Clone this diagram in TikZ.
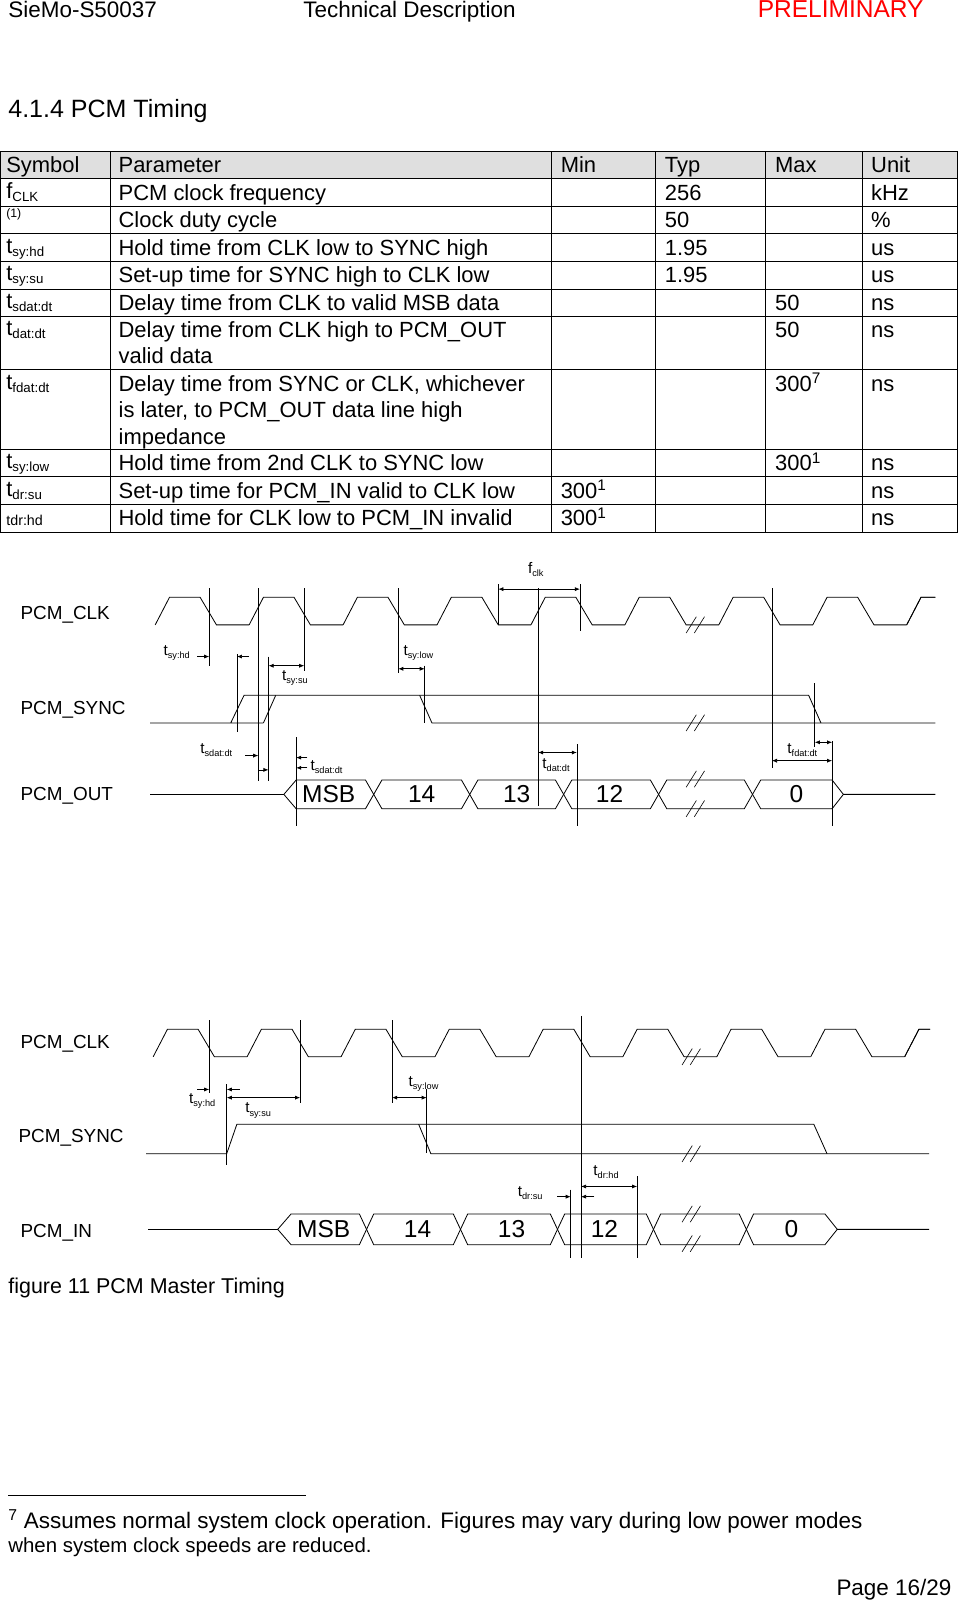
\documentclass[tikz,border=0pt]{standalone}
\usepackage{fontspec}
\setmainfont{Liberation Sans}
\usetikzlibrary{arrows.meta}
\newcommand\tlab[1]{t\raisebox{-3pt}{\fontsize{9}{9}\selectfont #1}}
\newcommand\symb[2]{#1\raisebox{-3pt}{\fontsize{13}{13}\selectfont #2}}
\begin{document}
\begin{tikzpicture}[x=1pt,y=-1pt,
  txt/.style={anchor=base west,inner sep=0pt,font=\fontsize{21.5}{21.5}\selectfont},
  lab/.style={anchor=base west,inner sep=0pt,font=\fontsize{18.5}{18.5}\selectfont},
  tl/.style={anchor=base west,inner sep=0pt,font=\fontsize{15}{15}\selectfont},
  bus/.style={font=\fontsize{24}{24}\selectfont},
  wave/.style={line width=0.8pt},
  vl/.style={line width=0.6pt},
  dim/.style={line width=0.7pt,-{Latex[length=5pt,width=4pt]}},
  ddim/.style={line width=0.7pt,{Latex[length=5pt,width=4pt]}-{Latex[length=5pt,width=4pt]}},
  brk/.style={line width=0.6pt}]
\useasboundingbox (0,0) rectangle (940,1568);
\fill[white] (0,0) rectangle (940,1568);
% header
\node[txt,font=\fontsize{22}{22}\selectfont] (h1) at (8,17) {SieMo-S50037};
\node[txt,font=\fontsize{22}{22}\selectfont] (h2) at (297,17) {Technical Description};
\node[txt,text=red,font=\fontsize{24}{24}\selectfont] (h3) at (742,17) {PRELIMINARY};
\node[txt,font=\fontsize{24.5}{24.5}\selectfont] (tt) at (8,115) {4.1.4 PCM Timing};
% table
\fill[gray!25] (0,148) rectangle (938,175);
\draw[line width=0.7pt] (0,148) rectangle (938,521);
\foreach \y in {175,202,229,256,283,310,362,440,467,494} \draw[line width=0.7pt] (0,\y)--(938,\y);
\foreach \x in {108,540,642,750,845} \draw[line width=0.7pt] (\x,148)--(\x,521);
\node[txt] (c1) at (6,169) {Symbol};
\node[txt] (c2) at (116,169) {Parameter};
\node[txt] (c3) at (549,169) {Min};
\node[txt] (c4) at (651,169) {Typ};
\node[txt] (c5) at (759,169) {Max};
\node[txt] (c6) at (853,169) {Unit};
% row 1
\node[txt] (r1a) at (6,194) {\symb{f}{CLK}};
\node[txt] (r1b) at (116,196) {PCM clock frequency};
\node[txt] (r1c) at (651,196) {256};
\node[txt] (r1d) at (853,196) {kHz};
% row 2
\node[txt,font=\fontsize{12}{12}\selectfont] (r2a) at (6,213) {(1)};
\node[txt] (r2b) at (116,223) {Clock duty cycle};
\node[txt] (r2c) at (651,223) {50};
\node[txt] (r2d) at (853,223) {\%};
% row 3
\node[txt] (r3a) at (6,248) {\symb{t}{sy:hd}};
\node[txt] (r3b) at (116,250) {Hold time from CLK low to SYNC high};
\node[txt] (r3c) at (651,250) {1.95};
\node[txt] (r3d) at (853,250) {us};
% row 4
\node[txt] (r4a) at (6,275) {\symb{t}{sy:su}};
\node[txt] (r4b) at (116,277) {Set-up time for SYNC high to CLK low};
\node[txt] (r4c) at (651,277) {1.95};
\node[txt] (r4d) at (853,277) {us};
% row 5
\node[txt] (r5a) at (6,302) {\symb{t}{sdat:dt}};
\node[txt] (r5b) at (116,304) {Delay time from CLK to valid MSB data};
\node[txt] (r5c) at (759,304) {50};
\node[txt] (r5d) at (853,304) {ns};
% row 6
\node[txt] (r6a) at (6,329) {\symb{t}{dat:dt}};
\node[txt] (r6b) at (116,331) {Delay time from CLK high to PCM\_OUT};
\node[txt] (r6b2) at (116,356) {valid data};
\node[txt] (r6c) at (759,331) {50};
\node[txt] (r6d) at (853,331) {ns};
% row 7
\node[txt] (r7a) at (6,381) {\symb{t}{fdat:dt}};
\node[txt] (r7b) at (116,383) {Delay time from SYNC or CLK, whichever};
\node[txt] (r7b2) at (116,409) {is later, to PCM\_OUT data line high};
\node[txt] (r7b3) at (116,435) {impedance};
\node[txt] (r7c) at (759,383) {300\textsuperscript{7}};
\node[txt] (r7d) at (853,383) {ns};
% row 8
\node[txt] (r8a) at (6,459) {\symb{t}{sy:low}};
\node[txt] (r8b) at (116,461) {Hold time from 2nd CLK to SYNC low};
\node[txt] (r8c) at (759,461) {300\textsuperscript{1}};
\node[txt] (r8d) at (853,461) {ns};
% row 9
\node[txt] (r9a) at (6,486) {\symb{t}{dr:su}};
\node[txt] (r9b) at (116,488) {Set-up time for PCM\_IN valid to CLK low};
\node[txt] (r9c) at (549,488) {300\textsuperscript{1}};
\node[txt] (r9d) at (853,488) {ns};
% row 10
\node[txt,font=\fontsize{14}{14}\selectfont] (r10a) at (6,515) {tdr:hd};
\node[txt] (r10b) at (116,515) {Hold time for CLK low to PCM\_IN invalid};
\node[txt] (r10c) at (549,515) {300\textsuperscript{1}};
\node[txt] (r10d) at (853,515) {ns};

% ================= diagram 1
\node[lab] (l1) at (20,607) {PCM\_CLK};
\node[lab] (l2) at (20,700) {PCM\_SYNC};
\node[lab] (l3) at (20,784) {PCM\_OUT};
\begin{scope}
\clip (140,570) rectangle (916,620);
\foreach \k in {0,...,8}{
 \pgfmathsetmacro\a{152+92*\k}
 \draw[wave] (\a,612)--(\a+14,585)--(\a+44,585)--(\a+60,612)--(\a+92,612);}
\draw[wave] (888,612)--(902,585)--(916,585);
\end{scope}
\draw[brk] (672,620)--(682,604) (680,620)--(690,604);
% sync
\draw[wave] (147,708)--(258,708) (226,708)--(239,681)--(792,681)--(804,708);
\draw[wave] (258,708)--(270,681);
\draw[wave] (411,681)--(423,708)--(916,708);
\draw[brk] (672,716)--(682,700) (680,716)--(690,700);
% out bus
\draw[wave] (147,778)--(278,778);
\draw[wave] (278,778)--(290,764)--(358,764)--(374,792)--(452,792)--(468,764)--(544,764)--(560,792)--(637,792)--(653,764)--(729,764)--(745,792)--(815,792)--(826,778)--(916,778);
\draw[wave] (278,778)--(290,792)--(358,792)--(374,764)--(452,764)--(468,792)--(544,792)--(560,764)--(637,764)--(653,792)--(729,792)--(745,764)--(815,764)--(826,778);
\draw[brk] (672,771)--(682,755) (680,771)--(690,755);
\draw[brk] (672,800)--(682,784) (680,800)--(690,784);
\node[bus] (m1) at (322,778) {MSB};
\node[bus] (m2) at (413,778) {14};
\node[bus] (m3) at (506,778) {13};
\node[bus] (m4) at (597,778) {12};
\node[bus] (m5) at (780,778) {0};
% verticals
\draw[vl] (205,576)--(205,652);
\draw[vl] (232,641)--(232,717);
\draw[vl] (253,576)--(253,765);
\draw[vl] (263,643)--(263,765);
\draw[vl] (298,576)--(298,657);
\draw[vl] (390,576)--(390,659);
\draw[vl] (416,652)--(416,708);
\draw[vl] (488,572)--(488,612);
\draw[vl] (568,572)--(568,618);
\draw[vl] (527,576)--(527,789);
\draw[vl] (565,729)--(565,809);
\draw[vl] (756,576)--(756,752);
\draw[vl] (815,726)--(815,809);
\draw[vl] (798,669)--(798,732);
\draw[vl] (290,722)--(290,809);
\coordinate (a1) at (193,643); \coordinate (a1e) at (205,643);
\draw[dim] (a1)--(a1e);
\coordinate (a2) at (244,643); \coordinate (a2e) at (232,643);
\draw[dim] (a2)--(a2e);
\coordinate (a3) at (263,652); \coordinate (a3e) at (298,652);
\draw[ddim] (a3)--(a3e);
\coordinate (a4) at (390,655); \coordinate (a4e) at (416,655);
\draw[ddim] (a4)--(a4e);
\coordinate (a5) at (488,577); \coordinate (a5e) at (568,577);
\draw[ddim] (a5)--(a5e);
\coordinate (a6) at (527,737); \coordinate (a6e) at (565,737);
\draw[ddim] (a6)--(a6e);
\coordinate (a7) at (756,745); \coordinate (a7e) at (815,745);
\draw[ddim] (a7)--(a7e);
\coordinate (a8) at (798,727); \coordinate (a8e) at (815,727);
\draw[ddim] (a8)--(a8e);
\coordinate (a9) at (240,740); \coordinate (a9e) at (253,740);
\draw[dim] (a9)--(a9e);
\coordinate (a10) at (253,754); \coordinate (a10e) at (263,754);
\draw[dim] (a10)--(a10e);
\coordinate (a11) at (301,742); \coordinate (a11e) at (290,742);
\draw[dim] (a11)--(a11e);
\coordinate (a12) at (301,752); \coordinate (a12e) at (290,752);
\draw[dim] (a12)--(a12e);
\node[tl] (t1) at (160,642) {\tlab{sy:hd}};
\node[tl] (t2) at (276,666) {\tlab{sy:su}};
\node[tl] (t3) at (395,642) {\tlab{sy:low}};
\node[tl] (t4) at (517,562) {f\raisebox{-3pt}{\fontsize{9}{9}\selectfont clk}};
\node[tl] (t5) at (196,738) {\tlab{sdat:dt}};
\node[tl] (t6) at (304,755) {\tlab{sdat:dt}};
\node[tl] (t7) at (531,753) {\tlab{dat:dt}};
\node[tl] (t8) at (771,738) {\tlab{fdat:dt}};

% ================= diagram 2
\node[lab] (k1) at (20,1027) {PCM\_CLK};
\node[lab] (k2) at (18,1119) {PCM\_SYNC};
\node[lab] (k3) at (20,1212) {PCM\_IN};
\begin{scope}
\clip (140,995) rectangle (911,1045);
\foreach \k in {0,...,8}{
 \pgfmathsetmacro\a{150+92*\k}
 \draw[wave] (\a,1035)--(\a+14,1008)--(\a+44,1008)--(\a+60,1035)--(\a+92,1035);}
\draw[wave] (886,1035)--(900,1008)--(911,1008);
\end{scope}
\draw[brk] (668,1043)--(678,1027) (676,1043)--(686,1027);
\draw[wave] (143,1130)--(222,1130)--(232,1101)--(797,1101)--(810,1130);
\draw[wave] (410,1101)--(422,1130)--(910,1130);
\draw[brk] (668,1138)--(678,1122) (676,1138)--(686,1122);
\draw[wave] (145,1204)--(272,1204);
\draw[wave] (272,1204)--(285,1189)--(352,1189)--(366,1219)--(444,1219)--(458,1189)--(539,1189)--(553,1219)--(633,1219)--(647,1189)--(724,1189)--(738,1219)--(808,1219)--(820,1204)--(910,1204);
\draw[wave] (272,1204)--(285,1219)--(352,1219)--(366,1189)--(444,1189)--(458,1219)--(539,1219)--(553,1189)--(633,1189)--(647,1219)--(724,1219)--(738,1189)--(808,1189)--(820,1204);
\draw[brk] (668,1197)--(678,1181) (676,1197)--(686,1181);
\draw[brk] (668,1226)--(678,1210) (676,1226)--(686,1210);
\node[bus] (n1) at (317,1204) {MSB};
\node[bus] (n2) at (409,1204) {14};
\node[bus] (n3) at (501,1204) {13};
\node[bus] (n4) at (592,1204) {12};
\node[bus] (n5) at (775,1204) {0};
\draw[vl] (205,999)--(205,1070);
\draw[vl] (222,1062)--(222,1141);
\draw[vl] (294,999)--(294,1080);
\draw[vl] (384,999)--(384,1080);
\draw[vl] (418,1067)--(418,1129);
\draw[vl] (569,995)--(569,1232);
\draw[vl] (559,1165)--(559,1232);
\draw[vl] (624,1152)--(624,1232);
\coordinate (b1) at (193,1067); \coordinate (b1e) at (205,1067);
\draw[dim] (b1)--(b1e);
\coordinate (b2) at (235,1067); \coordinate (b2e) at (222,1067);
\draw[dim] (b2)--(b2e);
\coordinate (b3) at (222,1075); \coordinate (b3e) at (294,1075);
\draw[ddim] (b3)--(b3e);
\coordinate (b4) at (384,1075); \coordinate (b4e) at (418,1075);
\draw[ddim] (b4)--(b4e);
\coordinate (b5) at (546,1172); \coordinate (b5e) at (559,1172);
\draw[dim] (b5)--(b5e);
\coordinate (b6) at (582,1172); \coordinate (b6e) at (569,1172);
\draw[dim] (b6)--(b6e);
\coordinate (b7) at (569,1162); \coordinate (b7e) at (624,1162);
\draw[ddim] (b7)--(b7e);
\node[tl] (u1) at (185,1081) {\tlab{sy:hd}};
\node[tl] (u2) at (240,1090) {\tlab{sy:su}};
\node[tl] (u3) at (400,1064) {\tlab{sy:low}};
\node[tl] (u4) at (507,1172) {\tlab{dr:su}};
\node[tl] (u5) at (581,1151) {\tlab{dr:hd}};

\node[txt,font=\fontsize{21}{21}\selectfont] (fig) at (8,1267) {figure 11 PCM Master Timing};
\draw[line width=0.6pt] (8,1464)--(300,1464);
\node[txt,font=\fontsize{22}{22}\selectfont] (fn1) at (8,1497) {\textsuperscript{7} Assumes normal system clock operation. Figures may vary during low power modes};
\node[txt,font=\fontsize{20}{20}\selectfont] (fn2) at (8,1520) {when system clock speeds are reduced.};
\node[txt,anchor=base east,font=\fontsize{22}{22}\selectfont] (pg) at (932,1563) {Page 16/29};
\end{tikzpicture}
\end{document}
